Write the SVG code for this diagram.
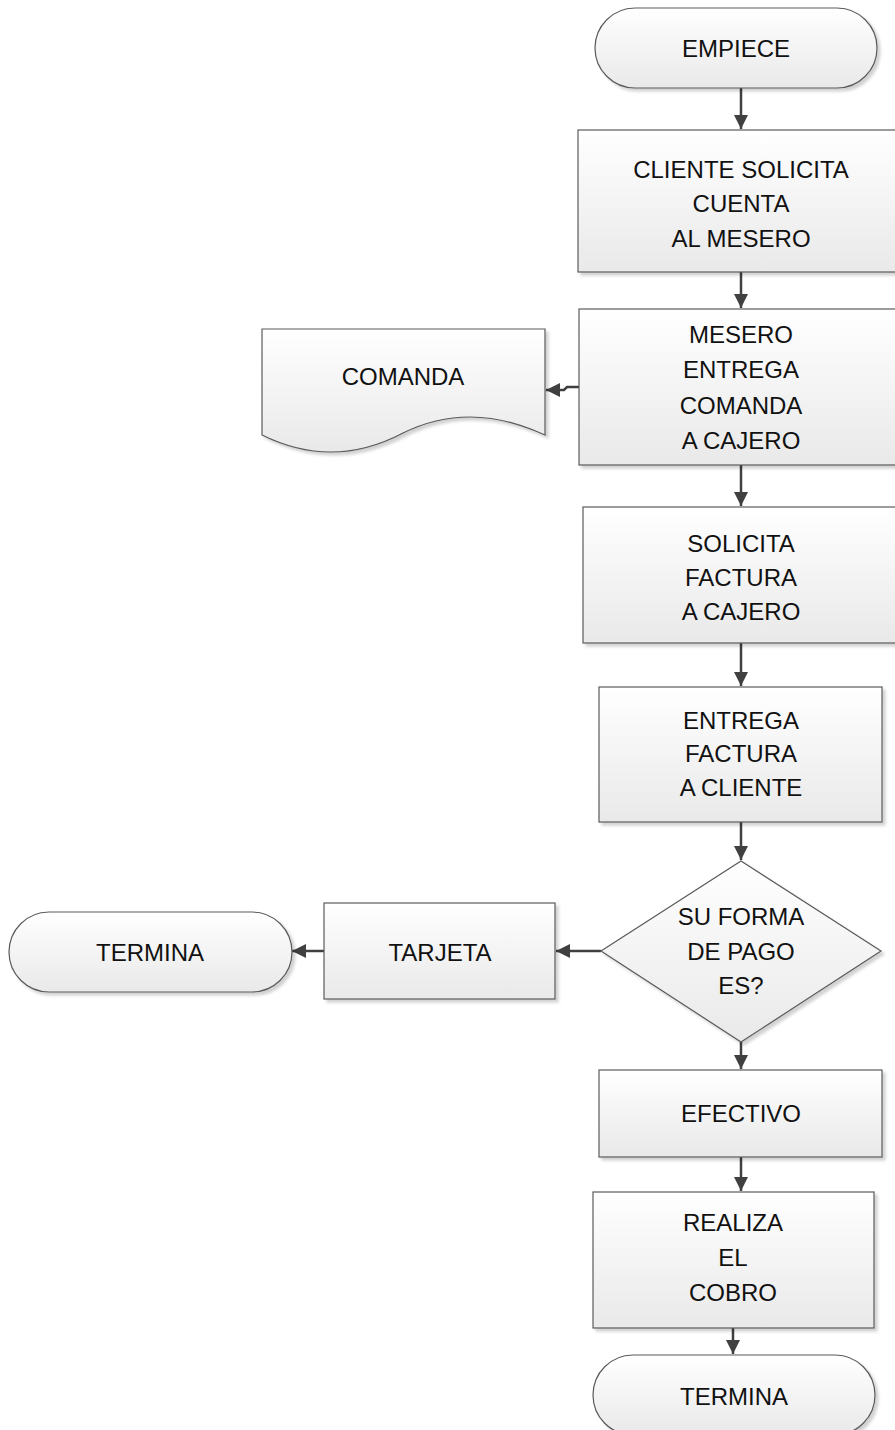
<svg xmlns="http://www.w3.org/2000/svg" width="895" height="1430" viewBox="0 0 895 1430">
<style>
.s{fill:url(#g);stroke:#5a5a5a;stroke-width:1.2;filter:url(#sh)}
.t{font-family:"Liberation Sans",Arial,sans-serif;font-size:24px;fill:#111;text-anchor:middle}
.c{fill:none;stroke:#404040;stroke-width:2.5;marker-end:url(#ah)}
</style>
<defs>
<linearGradient id="g" x1="0" y1="0" x2="0" y2="1">
<stop offset="0" stop-color="#ffffff"/>
<stop offset="1" stop-color="#e9e9e9"/>
</linearGradient>
<filter id="sh" x="-5%" y="-5%" width="115%" height="120%">
<feDropShadow dx="3" dy="3" stdDeviation="1.5" flood-color="#000" flood-opacity="0.18"/>
</filter>
<marker id="ah" viewBox="0 0 10 10" refX="10" refY="5" markerWidth="5.6" markerHeight="5.6" orient="auto" markerUnits="strokeWidth">
<path d="M0,0 L10,5 L0,10 z" fill="#404040"/>
</marker>
</defs>
<g id="connectors">
<path class="c" d="M741,88 V129"/>
<path class="c" d="M741,272 V308"/>
<path class="c" d="M579,387 H567 L564,390 H546"/>
<path class="c" d="M741,465 V506"/>
<path class="c" d="M741,643 V686"/>
<path class="c" d="M741,822 V860"/>
<path class="c" d="M601,951 H556"/>
<path class="c" d="M324,951 H292"/>
<path class="c" d="M741,1042 V1069"/>
<path class="c" d="M741,1157 V1191"/>
<path class="c" d="M733,1328 V1354"/>
</g>
<g id="n-empiece">
<rect class="s" x="595" y="8" width="282" height="80" rx="40" ry="40"/>
<text class="t" x="736" y="57">EMPIECE</text>
</g>
<g id="n-cliente">
<rect class="s" x="578" y="130" width="330" height="142"/>
<text class="t" x="741" y="178">CLIENTE SOLICITA</text>
<text class="t" x="741" y="212">CUENTA</text>
<text class="t" x="741" y="247">AL MESERO</text>
</g>
<g id="n-mesero">
<rect class="s" x="579" y="309" width="330" height="156"/>
<text class="t" x="741" y="343">MESERO</text>
<text class="t" x="741" y="378">ENTREGA</text>
<text class="t" x="741" y="414">COMANDA</text>
<text class="t" x="741" y="449">A CAJERO</text>
</g>
<g id="n-comanda">
<path class="s" d="M262,329 H545 V435 Q470,400 403,433 Q333,470 262,435 Z"/>
<text class="t" x="403" y="385">COMANDA</text>
</g>
<g id="n-solicita">
<rect class="s" x="583" y="507" width="330" height="136"/>
<text class="t" x="741" y="552">SOLICITA</text>
<text class="t" x="741" y="586">FACTURA</text>
<text class="t" x="741" y="620">A CAJERO</text>
</g>
<g id="n-entrega">
<rect class="s" x="599" y="687" width="283" height="135"/>
<text class="t" x="741" y="729">ENTREGA</text>
<text class="t" x="741" y="762">FACTURA</text>
<text class="t" x="741" y="796">A CLIENTE</text>
</g>
<g id="n-decision">
<path class="s" d="M741,861 L881,951 L741,1042 L601,951 Z"/>
<text class="t" x="741" y="925">SU FORMA</text>
<text class="t" x="741" y="960">DE PAGO</text>
<text class="t" x="741" y="994">ES?</text>
</g>
<g id="n-tarjeta">
<rect class="s" x="324" y="903" width="231" height="96"/>
<text class="t" x="440" y="961">TARJETA</text>
</g>
<g id="n-termina1">
<rect class="s" x="9" y="912" width="283" height="80" rx="40" ry="40"/>
<text class="t" x="150" y="961">TERMINA</text>
</g>
<g id="n-efectivo">
<rect class="s" x="599" y="1070" width="283" height="87"/>
<text class="t" x="741" y="1122">EFECTIVO</text>
</g>
<g id="n-realiza">
<rect class="s" x="593" y="1192" width="281" height="136"/>
<text class="t" x="733" y="1231">REALIZA</text>
<text class="t" x="733" y="1266">EL</text>
<text class="t" x="733" y="1301">COBRO</text>
</g>
<g id="n-termina2">
<rect class="s" x="593" y="1355" width="282" height="80" rx="40" ry="40"/>
<text class="t" x="734" y="1405">TERMINA</text>
</g>
</svg>
